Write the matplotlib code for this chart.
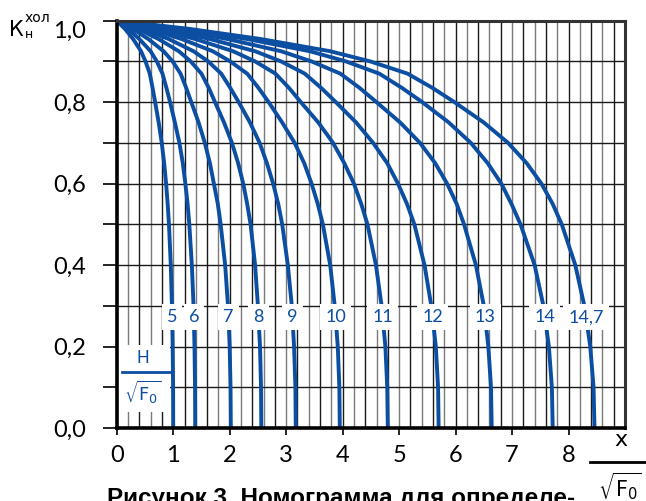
import numpy as np
import matplotlib
matplotlib.use('Agg')
import matplotlib.pyplot as plt

plt.rcParams['font.family'] = ['Lato', 'DejaVu Sans']
plt.rcParams['mathtext.fontset'] = 'dejavusans'

# K values read at these levels, one x list per curve (H / sqrt(F0) = label)
y_levels = [1.0, 0.98, 0.955, 0.925, 0.9, 0.87, 0.835, 0.8, 0.75, 0.7,
            0.65, 0.6, 0.55, 0.5, 0.4, 0.3, 0.2, 0.1, 0.0]
curve_labels = ['5', '6', '7', '8', '9', '10', '11', '12', '13', '14', '14,7']
x_5 = [0, 0.145, 0.29, 0.43, 0.51, 0.585, 0.635, 0.68, 0.743, 0.797, 0.84, 0.874, 0.902, 0.925, 0.957, 0.978, 0.991, 0.998, 1.0]
x_6 = [0, 0.20, 0.40, 0.60, 0.71, 0.81, 0.88, 0.945, 1.03, 1.11, 1.17, 1.215, 1.255, 1.285, 1.33, 1.36, 1.377, 1.387, 1.39]
x_7 = [0, 0.28, 0.56, 0.83, 0.99, 1.13, 1.23, 1.32, 1.45, 1.56, 1.65, 1.72, 1.79, 1.84, 1.92, 1.97, 2.0, 2.015, 2.02]
x_8 = [0, 0.37, 0.74, 1.10, 1.31, 1.50, 1.63, 1.74, 1.90, 2.04, 2.15, 2.24, 2.31, 2.37, 2.45, 2.50, 2.537, 2.555, 2.56]
x_9 = [0, 0.46, 0.92, 1.36, 1.62, 1.85, 2.01, 2.16, 2.36, 2.53, 2.66, 2.77, 2.86, 2.93, 3.03, 3.10, 3.14, 3.164, 3.17]
x_10 = [0, 0.57, 1.15, 1.70, 2.01, 2.31, 2.51, 2.69, 2.93, 3.15, 3.32, 3.45, 3.56, 3.65, 3.78, 3.86, 3.914, 3.942, 3.95]
x_11 = [0, 0.70, 1.39, 2.06, 2.45, 2.81, 3.05, 3.26, 3.57, 3.83, 4.03, 4.20, 4.33, 4.44, 4.59, 4.69, 4.757, 4.79, 4.80]
x_12 = [0, 0.83, 1.65, 2.45, 2.91, 3.33, 3.62, 3.88, 4.24, 4.54, 4.79, 4.98, 5.14, 5.27, 5.45, 5.57, 5.65, 5.69, 5.70]
x_13 = [0, 0.98, 1.96, 2.91, 3.45, 3.96, 4.30, 4.60, 5.02, 5.37, 5.64, 5.85, 6.02, 6.15, 6.36, 6.50, 6.58, 6.627, 6.64]
x_14 = [0, 1.15, 2.31, 3.42, 4.06, 4.65, 5.05, 5.41, 5.88, 6.27, 6.57, 6.81, 6.99, 7.15, 7.40, 7.555, 7.652, 7.705, 7.72]
x_147 = [0, 1.28, 2.55, 3.78, 4.49, 5.15, 5.59, 5.98, 6.50, 6.93, 7.26, 7.52, 7.72, 7.88, 8.12, 8.28, 8.385, 8.443, 8.46]
curves = [x_5, x_6, x_7, x_8, x_9, x_10, x_11, x_12, x_13, x_14, x_147]

x_ticks = [0, 1, 2, 3, 4, 5, 6, 7, 8]
y_ticks = [0.0, 0.2, 0.4, 0.6, 0.8, 1.0]
y_tick_labels = ['0,0', '0,2', '0,4', '0,6', '0,8', '1,0']

blue = '#0b4ea2'

fig = plt.figure(figsize=(6.46, 5.01), dpi=100)
ax = fig.add_axes([0.1807, 0.1457, 0.7868, 0.8130])

# grid
for gx in np.arange(0.2, 9.0, 0.2):
    c = '#1a1a1a' if int(round(gx / 0.2)) % 2 == 0 else '#7a7a7a'
    ax.axvline(gx, color=c, lw=1.0, zorder=1)
for gy in np.arange(0.1, 1.0, 0.1):
    ax.axhline(gy, color='#1a1a1a', lw=1.0, zorder=1)

# curves
for xs in curves:
    ax.plot(xs, y_levels, color=blue, lw=2.8, solid_joinstyle='round', zorder=3)

# curve labels on white boxes
y_lab = 0.272
for xs, lab in zip(curves, curve_labels):
    xl = np.interp(y_lab, y_levels[::-1], xs[::-1])
    ax.text(xl, y_lab, lab, color=blue, fontsize=13, ha='center', va='center',
            zorder=5, bbox=dict(boxstyle='square,pad=0.28', fc='white', ec='none'))

# H / sqrt(F0) box
ax.add_patch(plt.Rectangle((0.02, 0.04), 0.93, 0.165, fc='white', ec='none', zorder=4))
ax.text(0.47, 0.172, 'H', color=blue, fontsize=12, ha='center', va='center', zorder=5)
ax.plot([0.10, 0.95], [0.138, 0.138], color=blue, lw=2, zorder=5)
ax.text(0.47, 0.088, r'$\sqrt{\mathrm{F}_0}$', color=blue, fontsize=13, ha='center', va='center', zorder=5)

ax.set_xlim(0, 9)
ax.set_ylim(0, 1.0)
ax.set_xticks(x_ticks)
ax.set_xticklabels([str(v) for v in x_ticks], fontsize=17)
ax.set_yticks(y_ticks)
ax.set_yticklabels(y_tick_labels, fontsize=17)
ax.get_yticklabels()[-1].set_va('top')
ax.set_yticks(np.arange(0.1, 1.0, 0.2), minor=True)
ax.tick_params(axis='x', which='major', direction='out', length=5, width=1.2, pad=7)
ax.tick_params(axis='y', which='both', direction='out', length=10, width=1.2, pad=12)

for side in ['left', 'bottom']:
    ax.spines[side].set_linewidth(2.6)
for side in ['top', 'right']:
    ax.spines[side].set_linewidth(2.2)
    ax.spines[side].set_color('#333333')
for sp in ax.spines.values():
    sp.set_zorder(6)

# y axis label K_н^хол
fig.text(9 / 646, 1 - 29.5 / 501, 'К', fontsize=15, ha='left', va='center', family='DejaVu Sans')
fig.text(25 / 646, 1 - 18 / 501, 'хол', fontsize=10, ha='left', va='center', family='DejaVu Sans')
fig.text(25 / 646, 1 - 35 / 501, 'н', fontsize=9, ha='left', va='center', family='DejaVu Sans')

# x axis label x / sqrt(F0)
fig.text(621 / 646, 1 - 440 / 501, 'x', fontsize=16, ha='center', va='center', family='DejaVu Sans')
fig.add_artist(plt.Line2D([590 / 646, 1.0], [1 - 462 / 501, 1 - 462 / 501], color='black', lw=2))
fig.text(620 / 646, 1 - 486 / 501, r'$\sqrt{\mathrm{F}_0}$', fontsize=15, ha='center', va='center')

fig.text(107 / 646, 1 - 487 / 501, 'Рисунок 3. Номограмма для определе-', fontsize=17.5,
         fontweight='bold', ha='left', va='top', family='Liberation Sans')

fig.savefig('out.png', dpi=100)
